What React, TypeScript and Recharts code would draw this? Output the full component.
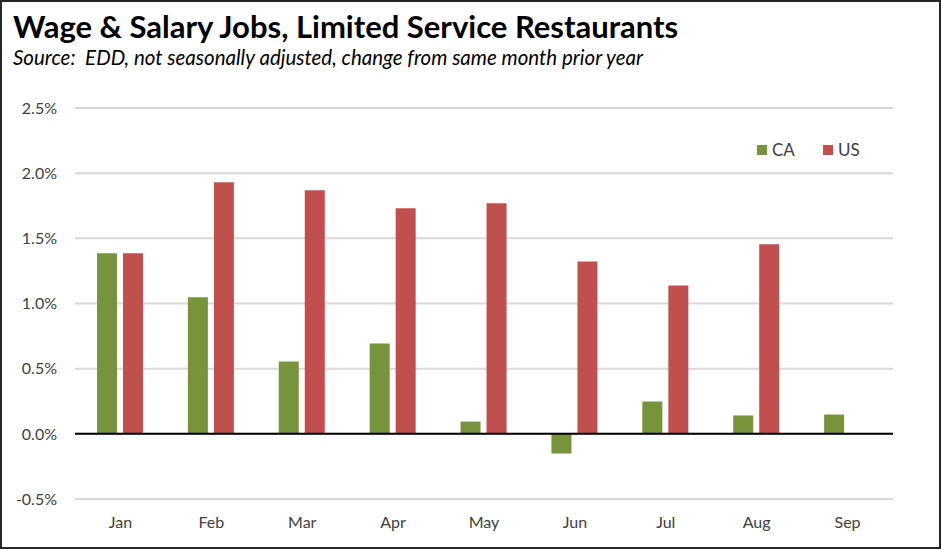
import React from "react";
import {
  BarChart,
  Bar,
  XAxis,
  YAxis,
  CartesianGrid,
  ReferenceLine,
} from "recharts";

const months = ["Jan", "Feb", "Mar", "Apr", "May", "Jun", "Jul", "Aug", "Sep"];
const caValues = [1.385, 1.047, 0.555, 0.694, 0.094, -0.151, 0.248, 0.141, 0.148];
const usValues: (number | null)[] = [1.385, 1.93, 1.869, 1.73, 1.769, 1.323, 1.139, 1.454, null];
const yTicks = [-0.5, 0, 0.5, 1.0, 1.5, 2.0, 2.5];

const GREEN = "#77933C";
const RED = "#C0504D";
const FONT = "Lato, 'Open Sans', sans-serif";

const data = months.map((m, i) => ({ month: m, CA: caValues[i], US: usValues[i] }));

// legend drawn outside the chart so it doesn't eat plot space
const LegendBox = () => (
  <div
    style={{
      position: "absolute",
      left: 757,
      top: 139,
      display: "flex",
      alignItems: "center",
      fontFamily: FONT,
      fontSize: 17,
      color: "#404040",
    }}
  >
    <span style={{ width: 10, height: 10, background: GREEN, display: "inline-block", marginRight: 5 }} />
    <span style={{ marginRight: 28 }}>CA</span>
    <span style={{ width: 10, height: 10, background: RED, display: "inline-block", marginRight: 5 }} />
    <span>US</span>
  </div>
);

export default function App() {
  return (
    <div style={{ position: "fixed", left: 0, top: 0, width: 941, height: 549, background: "#fff" }}>
      <BarChart
        width={941}
        height={549}
        data={data}
        barSize={20}
        barGap={6}
        margin={{ top: 108, right: 48, bottom: 20, left: 0 }}
        style={{ position: "absolute", left: 0, top: 0 }}
      >
        <CartesianGrid vertical={false} stroke="#D9D9D9" strokeWidth={2} />
        <XAxis
          dataKey="month"
          axisLine={false}
          tickLine={false}
          tickSize={0}
          tickMargin={18}
          height={30}
          tick={{ fill: "#404040", fontSize: 16, fontFamily: FONT }}
        />
        <YAxis
          domain={[-0.5, 2.5]}
          ticks={yTicks}
          width={75}
          axisLine={false}
          tickLine={false}
          tickSize={0}
          tickMargin={18}
          tickFormatter={(v: number) => `${v.toFixed(1)}%`}
          tick={{ fill: "#404040", fontSize: 16, fontFamily: FONT }}
        />
        <Bar dataKey="CA" fill={GREEN} isAnimationActive={false} />
        <Bar dataKey="US" fill={RED} isAnimationActive={false} />
        <ReferenceLine y={0} stroke="#000" strokeWidth={2} />
      </BarChart>
      <LegendBox />
      <div
        style={{
          position: "absolute",
          left: 13,
          top: 7,
          fontFamily: FONT,
          fontWeight: 700,
          fontSize: 31,
          color: "#000",
          whiteSpace: "nowrap",
        }}
      >
        Wage &amp; Salary Jobs, Limited Service Restaurants
      </div>
      <div
        style={{
          position: "absolute",
          left: 13,
          top: 45,
          fontFamily: FONT,
          fontStyle: "italic",
          fontSize: 20.5,
          color: "#000",
          whiteSpace: "nowrap",
        }}
      >
        Source:&nbsp; EDD, not seasonally adjusted, change from same month prior year
      </div>
      <div
        style={{
          position: "absolute",
          left: 0,
          top: 0,
          width: 941,
          height: 549,
          boxSizing: "border-box",
          border: "2px solid #262626",
          pointerEvents: "none",
        }}
      />
    </div>
  );
}
